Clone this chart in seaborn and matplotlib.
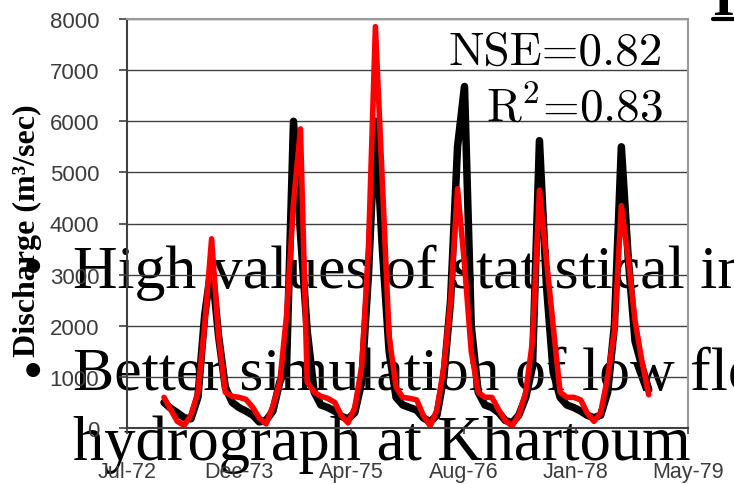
import numpy as np
import pandas as pd
import seaborn as sns
import matplotlib.pyplot as plt
from matplotlib.lines import Line2D

# monthly discharge at Khartoum, Jan-73 .. Dec-78 (m3/sec)
months = pd.date_range("1973-01-01", periods=72, freq="MS")
observed = [
    500, 380, 300, 200, 180, 600, 2200, 3200, 1800, 800, 500, 400,      # 1973
    330, 250, 120, 150, 330, 900, 1200, 6000, 3800, 1900, 700, 450,     # 1974
    400, 330, 230, 180, 300, 900, 3000, 6000, 3500, 1500, 600, 450,     # 1975
    400, 350, 200, 120, 250, 1000, 2500, 5500, 6680, 2000, 700, 450,    # 1976
    400, 300, 150, 100, 250, 600, 1200, 5620, 2800, 1100, 600, 450,     # 1977
    400, 330, 250, 200, 250, 700, 2000, 5500, 3300, 1700, 1200, 750,    # 1978
]
simulated = [
    600, 350, 130, 50, 250, 700, 2000, 3700, 1800, 700, 620, 600,       # 1973
    560, 400, 200, 80, 430, 900, 2200, 4400, 5850, 900, 700, 620,       # 1974
    580, 500, 250, 100, 400, 1200, 3500, 7850, 4800, 1800, 800, 600,    # 1975
    580, 550, 250, 40, 350, 1200, 2500, 4680, 3200, 1500, 700, 600,     # 1976
    600, 350, 150, 40, 250, 700, 1700, 4650, 3300, 2000, 700, 600,      # 1977
    600, 550, 300, 130, 300, 1000, 1900, 4350, 3300, 2100, 1300, 650,   # 1978
]
tick_labels = ["Jul-72", "Dec-73", "Apr-75", "Aug-76", "Jan-78", "May-79"]
y_ticks = list(range(0, 8001, 1000))

df = pd.DataFrame({"date": months, "Observed": observed, "Simulated": simulated})

sns.set_theme(style="white")
plt.rcParams["font.family"] = ["Liberation Sans", "DejaVu Sans"]

W, H = 734, 485
fig = plt.figure(figsize=(W / 100, H / 100), dpi=100)
ax = fig.add_axes([127 / W, 1 - 429 / H, (688 - 127) / W, (429 - 20) / H])
ax.set_facecolor("none")
ax.set_zorder(1)

sns.lineplot(data=df, x="date", y="Observed", color="black", lw=5.4, ax=ax,
             solid_capstyle="round", solid_joinstyle="round")
sns.lineplot(data=df, x="date", y="Simulated", color="red", lw=4.0, ax=ax,
             solid_capstyle="round", solid_joinstyle="round")

# date axis: ticks every 500 days like the Excel chart
start = pd.Timestamp("1972-07-20")
tick_dates = [start + pd.Timedelta(days=500 * i) for i in range(len(tick_labels))]
ax.set_xlim(tick_dates[0], tick_dates[-1])
ax.set_xticks(tick_dates)
ax.set_xticklabels(tick_labels)
ax.set_ylim(0, 8000)
ax.set_yticks(y_ticks)
ax.set_xlabel("")
ax.set_ylabel("")

ax.yaxis.grid(True, color="#404040", lw=1.0)
ax.xaxis.grid(False)
ax.set_axisbelow(True)
for side in ["left", "bottom"]:
    ax.spines[side].set_color("#404040")
    ax.spines[side].set_linewidth(1.5)
for side in ["top", "right"]:
    ax.spines[side].set_color("#999999")
    ax.spines[side].set_linewidth(1.5)

ax.tick_params(axis="y", direction="out", length=6, width=1.2, color="#404040",
               pad=14, labelsize=16, labelcolor="#3c3c3c", left=True)
ax.tick_params(axis="x", direction="out", length=4, width=1.2, color="#404040",
               pad=20, labelsize=15.5, labelcolor="#3c3c3c", bottom=True)

# statistics
fig.text(663 / W, 1 - 65 / H, "NSE=0.82", family="cmr10", fontsize=34,
         color="black", ha="right", va="baseline", zorder=5)
fig.text(663 / W, 1 - 121 / H, "R$^2$=0.83", family="cmr10", math_fontfamily="cm",
         fontsize=34, color="black", ha="right", va="baseline", zorder=5)

# y axis title
fig.text(27 / W, 1 - 231 / H, "Discharge (m³/sec)", family="Liberation Serif",
         fontweight="bold", fontsize=23, color="black", rotation=90,
         ha="center", va="center")

# slide text lying over the chart
serif = "Liberation Serif"
fig.text(73 / W, 1 - 288 / H, "High values of statistical in", family=serif,
         fontsize=44.5, color="black", va="baseline", zorder=-1)
fig.text(73 / W, 1 - 390 / H, "Better simulation of low flo", family=serif,
         fontsize=44.5, color="black", va="baseline", zorder=-1)
fig.text(73 / W, 1 - 460 / H, "hydrograph at Khartoum", family=serif,
         fontsize=45, color="black", va="baseline", zorder=-1)
for yb in [285, 389]:
    fig.text(33 / W, 1 - yb / H, "•", family=serif, fontsize=42, color="black",
             ha="center", va="baseline", zorder=-1)

fig.text(712 / W, 1 - 15 / H, "I", family=serif, fontweight="bold",
         fontsize=40, color="black", va="baseline")
fig.add_artist(Line2D([713 / W, 1.0], [1 - 20 / H, 1 - 20 / H],
                      transform=fig.transFigure, color="black", lw=3))

fig.savefig("out.png", dpi=100)
